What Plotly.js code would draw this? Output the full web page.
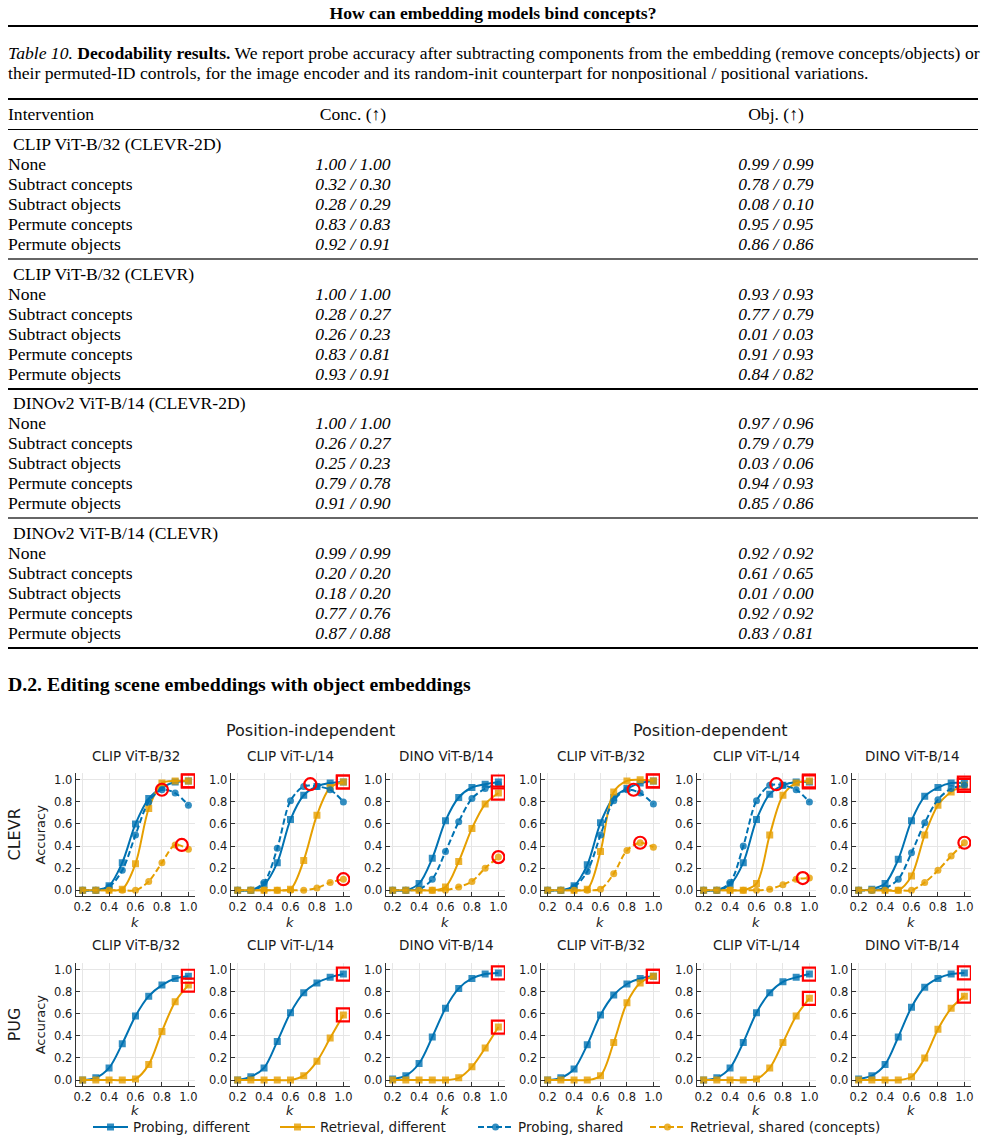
<!DOCTYPE html>
<html><head><meta charset="utf-8">
<script src="https://cdn.plot.ly/plotly-3.0.1.min.js"></script>
<style>
body{margin:0;background:#fff;width:986px;height:1143px;position:relative;overflow:hidden;font-family:"Liberation Serif","Times New Roman",serif;color:#000}
.t{position:absolute;white-space:nowrap;line-height:20px;font-size:17.6px}
.c{transform:translateX(-50%)}
.rule{position:absolute;left:8px;width:970px}
#chart{position:absolute;left:0;top:700px;width:986px;height:443px}
</style></head><body>
<div id="page"></div>
<div id="chart"></div>
<script>
// ---------- table data ----------
const pageTitle = "How can embedding models bind concepts?";
const captionLine1 = "<i>Table 10.</i> <b>Decodability results.</b> We report probe accuracy after subtracting components from the embedding (remove concepts/objects) or";
const captionLine2 = "their permuted-ID controls, for the image encoder and its random-init counterpart for nonpositional / positional variations.";
const tableHeaders = ["Intervention", "Conc. (\u2191)", "Obj. (\u2191)"];
const tableGroups = ["CLIP ViT-B/32 (CLEVR-2D)", "CLIP ViT-B/32 (CLEVR)", "DINOv2 ViT-B/14 (CLEVR-2D)", "DINOv2 ViT-B/14 (CLEVR)"];
const interventions = ["None", "Subtract concepts", "Subtract objects", "Permute concepts", "Permute objects"];
const concValues = [
  ["1.00 / 1.00", "0.32 / 0.30", "0.28 / 0.29", "0.83 / 0.83", "0.92 / 0.91"],
  ["1.00 / 1.00", "0.28 / 0.27", "0.26 / 0.23", "0.83 / 0.81", "0.93 / 0.91"],
  ["1.00 / 1.00", "0.26 / 0.27", "0.25 / 0.23", "0.79 / 0.78", "0.91 / 0.90"],
  ["0.99 / 0.99", "0.20 / 0.20", "0.18 / 0.20", "0.77 / 0.76", "0.87 / 0.88"]
];
const objValues = [
  ["0.99 / 0.99", "0.78 / 0.79", "0.08 / 0.10", "0.95 / 0.95", "0.86 / 0.86"],
  ["0.93 / 0.93", "0.77 / 0.79", "0.01 / 0.03", "0.91 / 0.93", "0.84 / 0.82"],
  ["0.97 / 0.96", "0.79 / 0.79", "0.03 / 0.06", "0.94 / 0.93", "0.85 / 0.86"],
  ["0.92 / 0.92", "0.61 / 0.65", "0.01 / 0.00", "0.92 / 0.92", "0.83 / 0.81"]
];
const sectionHeading = "D.2. Editing scene embeddings with object embeddings";

// ---------- chart data ----------
const kValues = [0.2, 0.3, 0.4, 0.5, 0.6, 0.7, 0.8, 0.9, 1.0];
const rowNames = ["CLEVR", "PUG"];
const groupTitles = ["Position-independent", "Position-dependent"];
const panelModels = ["CLIP ViT-B/32", "CLIP ViT-L/14", "DINO ViT-B/14", "CLIP ViT-B/32", "CLIP ViT-L/14", "DINO ViT-B/14"];
const seriesNames = ["Probing, different", "Retrieval, different", "Probing, shared", "Retrieval, shared (concepts)"];
// 12 panels: 6 CLEVR then 6 PUG
const probingDifferent = [
  [0, 0, 0.04, 0.25, 0.60, 0.83, 0.93, 0.98, 0.99],
  [0, 0, 0.05, 0.25, 0.64, 0.86, 0.94, 0.97, 0.98],
  [0, 0, 0.06, 0.29, 0.63, 0.84, 0.93, 0.96, 0.98],
  [0, 0, 0.04, 0.23, 0.61, 0.84, 0.92, 0.97, 0.99],
  [0, 0, 0.05, 0.25, 0.64, 0.87, 0.95, 0.98, 0.98],
  [0, 0.01, 0.06, 0.28, 0.63, 0.85, 0.93, 0.97, 0.97],
  [0, 0.02, 0.11, 0.33, 0.58, 0.76, 0.86, 0.92, 0.94],
  [0, 0.03, 0.11, 0.35, 0.61, 0.79, 0.88, 0.93, 0.96],
  [0.01, 0.04, 0.15, 0.39, 0.65, 0.83, 0.92, 0.96, 0.97],
  [0, 0.02, 0.10, 0.32, 0.59, 0.77, 0.87, 0.92, 0.94],
  [0, 0.02, 0.11, 0.34, 0.61, 0.79, 0.89, 0.93, 0.96],
  [0.01, 0.04, 0.14, 0.39, 0.66, 0.84, 0.92, 0.96, 0.97]
];
const retrievalDifferent = [
  [0, 0, 0, 0.01, 0.24, 0.74, 0.97, 0.99, 0.99],
  [0, 0, 0, 0, 0.01, 0.27, 0.68, 0.93, 0.98],
  [0, 0, 0, 0, 0.03, 0.26, 0.56, 0.78, 0.88],
  [0, 0, 0, 0.01, 0.35, 0.89, 0.99, 1.00, 0.99],
  [0, 0, 0, 0, 0.06, 0.50, 0.86, 0.97, 0.99],
  [0, 0, 0, 0, 0.13, 0.50, 0.77, 0.89, 0.95],
  [0, 0, 0, 0, 0.01, 0.14, 0.44, 0.71, 0.86],
  [0, 0, 0, 0, 0, 0.04, 0.17, 0.38, 0.59],
  [0, 0, 0, 0, 0, 0.02, 0.12, 0.29, 0.48],
  [0, 0, 0, 0, 0.04, 0.34, 0.70, 0.88, 0.94],
  [0, 0, 0, 0, 0.01, 0.11, 0.34, 0.58, 0.74],
  [0, 0, 0, 0, 0.03, 0.20, 0.46, 0.65, 0.76]
];
// CLEVR panels only
const probingShared = [
  [0, 0, 0.03, 0.18, 0.50, 0.80, 0.91, 0.88, 0.77],
  [0, 0, 0.07, 0.38, 0.81, 0.94, 0.94, 0.91, 0.80],
  [0, 0, 0.01, 0.10, 0.35, 0.62, 0.83, 0.92, 0.96],
  [0, 0, 0.03, 0.17, 0.50, 0.81, 0.91, 0.88, 0.78],
  [0, 0, 0.07, 0.40, 0.81, 0.95, 0.95, 0.91, 0.80],
  [0, 0, 0.02, 0.10, 0.34, 0.61, 0.82, 0.92, 0.95]
];
const retrievalShared = [
  [0, 0, 0, 0, 0, 0.08, 0.25, 0.41, 0.37],
  [0, 0, 0, 0, 0, 0, 0.02, 0.07, 0.10],
  [0, 0, 0, 0, 0, 0.03, 0.08, 0.20, 0.30],
  [0, 0, 0, 0, 0.01, 0.15, 0.36, 0.43, 0.39],
  [0, 0, 0, 0, 0, 0.01, 0.05, 0.10, 0.11],
  [0, 0, 0, 0, 0, 0.07, 0.18, 0.31, 0.43]
];
// red-circle peak markers on the shared curves (CLEVR panels)
const peakMarkK = [[0.8, 0.95], [0.75, 1.0], [1.0], [0.85, 0.9], [0.75, 0.95], [1.0]];
const peakMarkAcc = [[0.91, 0.41], [0.96, 0.10], [0.30], [0.91, 0.43], [0.96, 0.11], [0.43]];

// ---------- page (table) ----------
const page = document.getElementById('page');
function txt(html, x, yc, extra) {
  const d = document.createElement('div');
  d.className = 't' + (extra && extra.center ? ' c' : '');
  d.innerHTML = html;
  d.style.left = x + 'px';
  d.style.top = (yc - 10) + 'px';
  if (extra && extra.style) Object.assign(d.style, extra.style);
  page.appendChild(d);
  return d;
}
function rule(y, h, color) {
  const d = document.createElement('div');
  d.className = 'rule';
  d.style.top = (y - h / 2) + 'px';
  d.style.height = h + 'px';
  d.style.background = color;
  page.appendChild(d);
}
txt(pageTitle, 493, 13, {center: true, style: {fontWeight: 'bold'}});
rule(26, 2, '#000');
txt(captionLine1, 8, 53);
txt(captionLine2, 8, 73);
rule(99, 1.6, '#000');
txt(tableHeaders[0], 8, 114);
txt(tableHeaders[1], 353, 114, {center: true});
txt(tableHeaders[2], 776, 114, {center: true});
rule(129, 1, '#000');
const groupBase = [144, 274, 403, 533];
const groupRuleColor = ['#666', '#000', '#666'];
tableGroups.forEach((g, gi) => {
  const y0 = groupBase[gi];
  txt(g, 13, y0);
  interventions.forEach((name, ri) => {
    const y = y0 + 20 * (ri + 1);
    txt(name, 8, y);
    txt('<i>' + concValues[gi][ri] + '</i>', 353, y, {center: true});
    txt('<i>' + objValues[gi][ri] + '</i>', 776, y, {center: true});
  });
  if (gi < 3) rule(y0 + 115, 1.2, groupRuleColor[gi]);
});
rule(648, 1.6, '#000');
txt(sectionHeading, 8, 684, {style: {fontWeight: 'bold', fontSize: '19.8px'}});

// ---------- chart ----------
const W = 986, H = 443;
const panelLeft = [76, 231, 386, 541, 697, 852];
const panelW = 119;
const rowTop = [74, 266];
const rowH = 124;
const BLUE = '#0072B2', ORANGE = '#E69F00', RED = '#FF0000';
const BLUE_M = 'rgba(0,114,178,0.8)', ORANGE_M = 'rgba(230,159,0,0.8)';
const px = x => x / W;
const py = y => 1 - y / H;

const traces = [];
const layout = {
  width: W, height: H,
  margin: {l: 0, r: 0, t: 0, b: 0},
  paper_bgcolor: 'rgba(0,0,0,0)', plot_bgcolor: 'rgba(0,0,0,0)',
  font: {family: 'DejaVu Sans', color: '#1a1a1a'},
  showlegend: true,
  annotations: []
};

function addSeries(ax, xs, ys, color, mcolor, dash, symbol, name, legendKey) {
  traces.push({
    type: 'scatter', mode: 'lines+markers', x: xs, y: ys,
    xaxis: 'x' + ax.n, yaxis: 'y' + ax.n,
    name: name,
    showlegend: !!legendKey,
    legend: legendKey || 'legend',
    line: {color: color, width: 2, dash: dash, shape: 'spline', smoothing: 0.9},
    marker: {symbol: symbol, size: 7, color: mcolor},
    hoverinfo: 'skip'
  });
}

for (let p = 0; p < 12; p++) {
  const row = p < 6 ? 0 : 1;
  const col = p % 6;
  const n = p === 0 ? '' : String(p + 1);
  const l = panelLeft[col], t = rowTop[row];
  const xKey = 'xaxis' + n, yKey = 'yaxis' + n;
  layout[xKey] = {
    domain: [px(l), px(l + panelW)], anchor: 'y' + n,
    range: [0.15, 1.05], tick0: 0.2, dtick: 0.2, tickformat: '.1f',
    showgrid: true, gridcolor: '#e6e6e6', gridwidth: 1, zeroline: false,
    showline: true, linecolor: '#333', linewidth: 1.3,
    ticks: 'inside', ticklen: 3.5, tickwidth: 1, tickcolor: '#333',
    tickfont: {size: 11.5, color: '#1a1a1a'}, fixedrange: true
  };
  layout[yKey] = {
    domain: [py(t + rowH), py(t)], anchor: 'x' + n,
    range: [-0.05, 1.06], tick0: 0, dtick: 0.2, tickformat: '.1f',
    showgrid: true, gridcolor: '#e6e6e6', gridwidth: 1, zeroline: false,
    showline: true, linecolor: '#333', linewidth: 1.3,
    ticks: 'inside', ticklen: 3.5, tickwidth: 1, tickcolor: '#333',
    tickfont: {size: 11.5, color: '#1a1a1a'}, fixedrange: true
  };
  const ax = {n: n};
  const first = p === 0;
  addSeries(ax, kValues, probingDifferent[p], BLUE, BLUE_M, 'solid', 'square', seriesNames[0], first ? 'legend' : null);
  addSeries(ax, kValues, retrievalDifferent[p], ORANGE, ORANGE_M, 'solid', 'square', seriesNames[1], first ? 'legend2' : null);
  if (row === 0) {
    addSeries(ax, kValues, probingShared[p], BLUE, BLUE_M, '6px,3px', 'circle', seriesNames[2], first ? 'legend3' : null);
    addSeries(ax, kValues, retrievalShared[p], ORANGE, ORANGE_M, '6px,3px', 'circle', seriesNames[3], first ? 'legend4' : null);
  }
  // red squares at the last k of the "different" curves
  const lastK = kValues[kValues.length - 1];
  traces.push({
    type: 'scatter', mode: 'markers',
    x: [lastK, lastK],
    y: [probingDifferent[p][kValues.length - 1], retrievalDifferent[p][kValues.length - 1]],
    xaxis: 'x' + n, yaxis: 'y' + n, showlegend: false, hoverinfo: 'skip',
    marker: {symbol: 'square-open', size: 13, color: RED, line: {color: RED, width: 2.2}}
  });
  if (row === 0) {
    traces.push({
      type: 'scatter', mode: 'markers', x: peakMarkK[p], y: peakMarkAcc[p],
      xaxis: 'x' + n, yaxis: 'y' + n, showlegend: false, hoverinfo: 'skip',
      marker: {symbol: 'circle-open', size: 12, color: RED, line: {color: RED, width: 2.2}}
    });
  }
  // subplot title
  layout.annotations.push({
    text: panelModels[col], xref: 'paper', yref: 'paper',
    x: px(l + panelW / 2), y: py(row === 0 ? 57 : 248), xanchor: 'center', yanchor: 'middle',
    showarrow: false, font: {size: 13.5, color: '#1a1a1a'}
  });
  // x label k
  layout.annotations.push({
    text: '<i>k</i>', xref: 'paper', yref: 'paper',
    x: px(l + 59), y: py(row === 0 ? 225 : 415), xanchor: 'center', yanchor: 'middle',
    showarrow: false, font: {size: 13, color: '#1a1a1a'}
  });
}
// row labels
rowNames.forEach((r, ri) => {
  const yc = rowTop[ri] + rowH / 2;
  layout.annotations.push({text: r, xref: 'paper', yref: 'paper', x: px(14), y: py(yc),
    xanchor: 'center', yanchor: 'middle', textangle: -90, showarrow: false, font: {size: 16, color: '#1a1a1a'}});
  layout.annotations.push({text: 'Accuracy', xref: 'paper', yref: 'paper', x: px(40), y: py(yc),
    xanchor: 'center', yanchor: 'middle', textangle: -90, showarrow: false, font: {size: 13, color: '#1a1a1a'}});
});
// group titles
groupTitles.forEach((g, gi) => {
  layout.annotations.push({text: g, xref: 'paper', yref: 'paper', x: px(gi === 0 ? 310 : 710), y: py(31),
    xanchor: 'center', yanchor: 'middle', showarrow: false, font: {size: 16, color: '#1a1a1a'}});
});
// legends
const legendStarts = [88, 275, 473, 645];
['legend', 'legend2', 'legend3', 'legend4'].forEach((k, i) => {
  layout[k] = {x: px(legendStarts[i]), xanchor: 'left', y: py(432), yanchor: 'middle',
    orientation: 'h', bgcolor: 'rgba(0,0,0,0)', borderwidth: 0, itemwidth: 35,
    font: {size: 13.5, color: '#1a1a1a'}};
});

Plotly.newPlot('chart', traces, layout, {staticPlot: true, displayModeBar: false});
</script>
</body></html>
